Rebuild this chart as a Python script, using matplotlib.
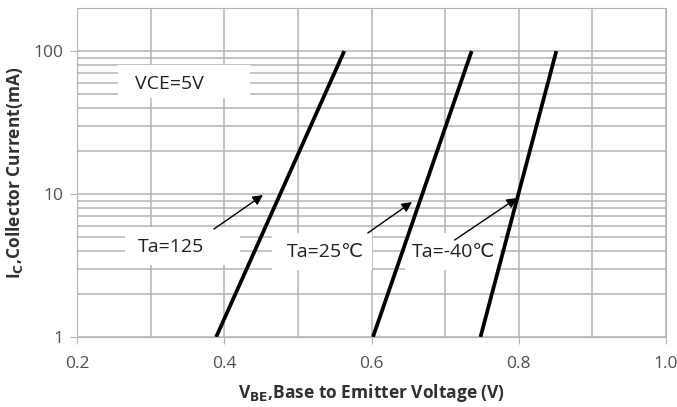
import matplotlib
matplotlib.use("Agg")
import matplotlib.pyplot as plt
from matplotlib.ticker import FixedLocator, NullFormatter
from matplotlib.patches import Rectangle

# data
ic_range = [1, 100]
vbe_125 = [0.389, 0.563]
vbe_25 = [0.602, 0.736]
vbe_m40 = [0.748, 0.851]
xticks = [0.2, 0.4, 0.6, 0.8, 1.0]
xtick_labels = ["0.2", "0.4", "0.6", "0.8", "1.0"]
yticks = [1, 10, 100]
ytick_labels = ["1", "10", "100"]
labels = ["Ta=125", "Ta=25\u2103", "Ta=-40\u2103"]
note = "VCE=5V"

plt.rcParams['font.family'] = ['Open Sans', 'DejaVu Sans']

fig = plt.figure(figsize=(6.77, 4.07), dpi=100)
ax = fig.add_axes([0.1137, 0.172, 0.9838 - 0.1137, 0.9803 - 0.172])
ax.set_yscale('log')
ax.set_xlim(0.2, 1.0)
ax.set_ylim(1, 200)

gridc = '#b4b4b4'
ax.set_xticks(xticks)
ax.set_xticklabels(xtick_labels)
ax.xaxis.set_minor_locator(FixedLocator([0.3, 0.5, 0.7, 0.9]))
ax.set_yticks(yticks)
ax.set_yticklabels(ytick_labels)
minor_y = [m * d for d in (1, 10) for m in range(2, 10)]
ax.yaxis.set_minor_locator(FixedLocator(minor_y))
ax.yaxis.set_minor_formatter(NullFormatter())
ax.grid(True, which='both', color=gridc, linewidth=1.1, zorder=0.5)
ax.set_axisbelow(True)
ax.tick_params(axis='both', which='minor', length=0)
ax.tick_params(axis='both', which='major', length=5, color=gridc,
               labelsize=12.5, labelcolor='#505050', direction='out')
ax.tick_params(axis='x', pad=9)
ax.tick_params(axis='y', pad=5)
for s in ax.spines.values():
    s.set_color(gridc)

for v in (vbe_125, vbe_25, vbe_m40):
    ax.plot(v, ic_range, color='black', linewidth=2.7, solid_capstyle='butt', zorder=2)

# white text-box backgrounds (axes fraction)
boxes = [
    (0.0696, 0.7264, 0.2241, 0.1003),
    (0.0815, 0.2188, 0.1955, 0.1155),
    (0.3310, 0.2036, 0.1698, 0.1125),
    (0.5569, 0.2036, 0.1613, 0.1125),
]
for bx, by, bw, bh in boxes:
    ax.add_patch(Rectangle((bx, by), bw, bh, transform=ax.transAxes,
                           facecolor='white', edgecolor='none', zorder=1.5))

ax.text(0.325, 58.8, note, fontsize=14, ha='center', va='center',
        color='#202020', zorder=3)

# annotations: (label, arrow tip, text center, arrow start)
ann = [
    (labels[0], (0.4526, 9.84), (0.328, 4.26), (0.386, 5.69)),
    (labels[1], (0.655, 8.79), (0.5375, 3.93), (0.595, 5.34)),
    (labels[2], (0.7976, 9.38), (0.7114, 3.93), (0.713, 4.77)),
]
for txt, tip, tc, start in ann:
    ax.annotate("", xy=tip, xytext=start,
                arrowprops=dict(arrowstyle='-|>', color='black', lw=1.0,
                                mutation_scale=15, shrinkA=0, shrinkB=0),
                zorder=3)
    ax.text(tc[0], tc[1], txt, fontsize=14, ha='center', va='center',
            color='#202020', zorder=3)

ax.set_xlabel(r"V$_{\mathbf{BE}}$,Base to Emitter Voltage (V)", fontsize=12.5,
              fontweight='bold', color='#303030', labelpad=7)
ax.set_ylabel(r"I$_{\mathbf{C}}$,Collector Current(mA)", fontsize=12.5,
              fontweight='bold', color='#303030', labelpad=6)

fig.savefig("out.png", dpi=100)
